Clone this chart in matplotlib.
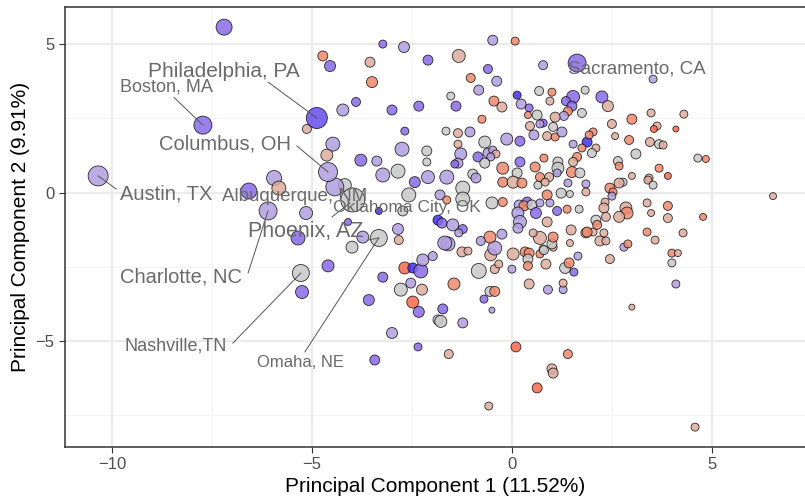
import matplotlib
matplotlib.use("Agg")
import matplotlib.pyplot as plt
from matplotlib.colors import LinearSegmentedColormap
import numpy as np

plt.rcParams['font.family'] = ['Liberation Sans', 'DejaVu Sans']

# PCA scores per metro area: PC1, PC2, marker size (px radius), fill score (-1 blue .. 1 red)
B, P, L, G, S, O, R = -1.0, -0.7, -0.4, 0.0, 0.35, 0.7, 0.95

pc1 = [-7.20, -4.73, -4.55, -3.55, -3.50, -3.23, -2.70, -2.10, -4.23, -3.90,
       -3.00, -2.33, -5.13, -4.48, -4.63, -2.68, -2.75, -2.13, -2.13, -3.78,
       -3.38, -3.23, -2.85, -2.43, -2.10, -2.58, -4.18, -4.43, -5.95, -5.83,
       -6.58, -5.15, -4.10, -3.33, -2.73, -2.85, -2.83, -3.73, -4.00, -5.35,
       -1.85, -1.75, -4.60, -5.25, -3.23, -3.58, -3.00, -2.35, -3.43, -2.68,
       -2.48, -2.28, -2.23, -1.98, -2.53, -2.78, -2.25, -2.48, -2.33, -1.85,
       -1.45, -1.78, -1.23, -1.73, -0.70, -0.50, -0.55, -0.43, -0.83, -0.43,
       -0.33, 0.00, -0.53, -0.43, -0.55, -0.78, -1.25, -1.10, -1.60, 0.03,
       0.33, 0.43, 0.40, 0.40, 0.70, 0.85, 0.78, 1.03, 1.00, 1.03,
       0.70, 0.53, 1.45, 1.33, 1.43, 1.55, 1.65, 0.43, 0.90, 1.28,
       1.28, 1.85, 2.03, 2.20, 2.35, 2.30, 2.45, 2.80, 2.90, 3.00,
       3.38, 3.58, 4.00, 4.15, 4.00, 4.10, 4.28, 0.10, -1.58, 1.40,
       1.00, 1.03, 0.63, -0.58, 4.58, 6.53,
       -1.80, -1.63, -1.68,
       -0.48, 0.08, -1.33, 0.78, -0.60, -1.03, -0.38, -0.83, -1.53, -1.40,
       -0.45, -0.25, 0.13, 0.68, 1.00, 0.95, 1.53, 1.35, 1.50, 1.83,
       1.75, 1.40, 1.30, 0.23, 0.43, 0.40, 0.63, 1.08, 1.03, 0.78,
       0.70, 0.45, -0.75, -1.65, -1.35, -1.05, -0.68, -0.13, 0.20, 0.55,
       0.88, 1.08, 1.25, 1.53, 1.88, 1.75, -1.35, -1.28, -0.85, -0.60,
       -0.48, -0.40, -0.53, -1.35, -1.43, -0.68, -0.23, 0.20, 0.13, 0.58,
       0.80, 1.15, 1.15, 1.63, 1.53, 1.50, 1.70, 0.70, 0.93, 1.13,
       -1.63, -0.98, -0.90,
       3.53, 2.25, 2.40, 3.48, 4.30, 2.50, 3.00, 3.63, 3.55, 4.10,
       2.58, 2.03, 1.93, 2.10, 2.00, 2.93, 3.45, 3.68, 3.78, 3.10,
       2.65, 2.68, 3.00, 3.68, 3.90, 3.43, 4.65, 4.85,
       -0.23, 0.03, 0.25, 0.65, 0.83, 1.40, 1.85, -1.23, -1.23, -0.50,
       -0.23, -1.48, -1.23, -1.33, 0.18, 0.38, 0.30, 0.50, 0.60, 0.15,
       0.20, 0.15, 0.70, 0.88, 0.95, 1.23, 1.45, 1.13, 1.38, 1.68,
       0.88, 0.80, 1.48, -0.25,
       1.85, 2.45, 2.53, 2.50, 2.78, 2.68, 3.40, 3.53, 2.33, 2.30,
       2.35, 2.10, 2.13, 1.88, 2.85, 2.88, 2.68, 3.38, 3.48, 3.90,
       3.90, 4.78,
       -3.98, -3.33, -4.88, -7.73, -4.60, -10.35, -6.10, -5.28, 1.63]

pc2 = [5.57, 4.60, 4.26, 4.39, 3.72, 5.00, 4.90, 4.46, 2.78, 3.05,
       2.78, 2.91, 2.14, 1.63, 1.26, 2.07, 1.46, 1.40, 1.03, 1.09,
       1.06, 0.59, 0.72, 0.35, 0.52, -0.08, 0.25, 0.19, 0.49, 0.15,
       0.05, -0.69, -0.99, -0.62, -0.62, -1.23, -1.60, -1.50, -1.84, -1.53,
       -0.93, -1.03, -2.47, -3.35, -2.85, -3.62, -4.73, -5.20, -5.64, -2.54,
       -2.54, -2.64, -2.27, -2.14, -3.05, -3.27, -3.27, -3.69, -4.02, -4.29,
       -3.08, -4.34, -4.39, -3.92, -3.59, -3.96, -3.33, -3.33, -2.64, -2.58,
       -2.41, -2.58, -2.10, -1.87, -1.50, -1.63, -2.00, -1.97, -1.73, -2.07,
       -2.00, -2.04, -2.24, -2.47, -2.07, -2.41, -1.90, -1.84, -1.73, -1.50,
       -1.53, -1.36, -1.70, -2.54, -2.37, -2.68, -2.14, -3.08, -3.27, -3.27,
       -3.05, -1.36, -1.33, -1.63, -1.63, -1.36, -2.24, -1.84, -1.73, -3.86,
       -1.33, -1.60, -2.04, -2.04, -2.37, -3.08, -1.36, -5.20, -5.44, -5.44,
       -5.94, -6.08, -6.58, -7.19, -7.90, -0.12,
       -0.08, -0.25, -1.70,
       5.13, 5.10, 4.60, 4.29, 4.16, 3.86, 3.75, 3.45, 3.25, 2.91,
       3.08, 2.88, 3.28, 3.42, 3.38, 3.08, 3.22, 3.08, 2.91, 3.45,
       2.68, 2.74, 2.58, 2.98, 2.85, 2.61, 2.61, 2.54, 2.21, 2.34,
       2.31, 2.24, 2.47, 2.07, 2.00, 2.04, 1.70, 1.80, 1.73, 1.94,
       1.90, 1.87, 2.04, 1.63, 1.70, 1.50, 1.63, 1.30, 1.20, 1.33,
       1.43, 1.30, 1.20, 0.99, 0.96, 0.99, 0.82, 1.03, 0.66, 0.86,
       1.16, 1.03, 0.82, 1.20, 1.03, 0.69, 0.66, 0.52, 0.52, 0.66,
       0.52, 0.62, 0.49,
       3.82, 3.22, 2.91, 2.68, 2.64, 2.31, 2.47, 2.24, 2.14, 2.14,
       1.90, 2.04, 1.94, 1.50, 1.33, 1.77, 1.70, 1.63, 1.60, 1.30,
       1.06, 0.89, 0.56, 0.82, 0.56, 0.49, 1.16, 1.13,
       0.35, 0.35, 0.32, 0.25, 0.35, 0.32, 0.29, 0.15, -0.22, -0.35,
       -0.32, -1.09, -1.23, -1.36, -0.42, -0.32, -0.45, -0.42, -0.69, -0.69,
       -0.99, -1.20, -0.35, -0.08, -0.35, -0.02, -0.05, -0.62, -0.56, -0.56,
       -0.99, -1.94, -1.26, -1.40,
       0.02, 0.15, 0.02, -0.12, 0.35, 0.32, 0.42, 0.25, -0.32, -0.52,
       -0.82, -0.93, -1.09, -1.33, -0.52, -0.69, -0.82, -0.35, -0.69, -0.45,
       -0.86, -0.82,
       -0.25, -1.53, 2.51, 2.27, 0.69, 0.56, -0.62, -2.71, 4.36]

size_px = [8, 5, 5.5, 5, 5.5, 4, 5.5, 5, 6, 4.5,
           5, 5, 4.5, 7, 6, 4, 7, 5, 4, 6,
           5, 7, 7, 5.5, 6.5, 7, 6.5, 9, 7.5, 7,
           8, 6.5, 3.5, 3.5, 5, 5.5, 4.5, 6, 6, 7,
           5, 5, 6, 6.5, 5, 5.5, 5.5, 4, 5, 6,
           5, 7, 6, 4.5, 5, 6.5, 5.5, 6, 5.5, 5,
           6, 6, 5, 5, 4, 3, 5, 5, 7.5, 4.5,
           4, 4, 6, 7, 6, 4.5, 5, 4, 7, 6,
           5, 5, 5, 4.5, 4, 5, 4, 4, 5, 5,
           6.5, 4, 3.5, 5.5, 5, 4, 4, 5, 4.5, 4,
           4, 5, 4, 5, 4, 4, 4.5, 4, 4, 3,
           4, 4, 4, 3.5, 4, 4, 4, 5, 4.5, 4.5,
           5, 5, 5, 4, 4, 3.5,
           5, 4, 7,
           5, 4, 6.5, 4.5, 4.5, 4.5, 5, 5, 4, 5,
           5, 5, 4, 4.5, 4, 4, 6.5, 4.5, 5, 4,
           4.5, 4.5, 4.5, 5, 4, 3.5, 5, 5, 4.5, 4,
           4, 4.5, 4, 4, 4.5, 5, 6, 6, 5, 5,
           4.5, 4, 5, 4, 5, 4, 4, 6, 5, 5,
           4, 4, 4, 5, 4, 5, 6, 5, 5, 5,
           4, 5, 6, 4.5, 4.5, 5.5, 5, 4.5, 4.5, 4,
           7, 5, 5,
           4, 6, 5.5, 4, 4, 4.5, 5, 4, 3.5, 3,
           3.5, 4, 4, 4, 4.5, 4.5, 4.5, 4.5, 4, 5,
           4.5, 4, 3.5, 4, 3.5, 4, 4, 3.5,
           5, 6, 5, 4, 4, 4, 4, 7, 7, 6,
           4.5, 6, 4.5, 4, 5, 5, 5, 5, 5.5, 6,
           6.5, 5, 4, 5, 4, 5, 3.5, 4.5, 4, 4,
           5, 4.5, 5, 5,
           4, 5, 4, 4, 4, 5, 4, 4, 4, 5,
           4.5, 5, 4.5, 5, 6, 6, 5.5, 4, 3.5, 4.5,
           4.5, 3.5,
           12, 8.5, 10.5, 9, 9.5, 10, 9, 8.5, 9]

score = [P, O, P, S, O, P, L, P, L, P,
         P, P, S, L, S, P, L, G, G, P,
         L, L, G, P, L, G, G, L, L, S,
         P, L, P, B, G, L, S, L, G, P,
         B, P, P, P, P, P, L, P, P, R,
         B, P, L, L, L, G, S, R, P, G,
         O, G, L, P, P, L, G, O, G, S,
         S, L, S, L, O, L, S, S, L, S,
         O, O, G, O, O, S, G, S, G, O,
         S, S, S, G, O, P, L, S, L, L,
         S, S, S, S, S, S, S, L, O, S,
         O, S, O, S, G, L, S, R, S, O,
         S, S, R, S, S, S,
         L, O, L,
         L, O, S, L, P, O, L, L, G, P,
         O, S, B, G, O, S, P, P, P, G,
         G, O, L, L, P, O, G, S, G, P,
         L, S, O, G, S, L, G, L, P, L,
         S, O, L, L, B, O, S, L, P, L,
         L, S, L, L, P, G, O, P, G, O,
         O, G, G, O, S, O, G, O, S, L,
         L, G, L,
         L, P, S, S, S, S, O, S, R, R,
         S, O, O, S, G, O, S, G, S, G,
         G, O, S, O, R, S, G, O,
         O, S, O, G, S, L, L, G, G, G,
         O, L, P, L, L, P, O, G, P, L,
         L, L, L, O, L, G, G, P, O, G,
         S, G, S, L,
         S, O, O, L, G, S, S, G, S, S,
         S, G, O, O, S, O, S, S, S, O,
         S, O,
         G, G, -0.85, P, L, L, L, G, P]

# Labelled metros: text, label centre, leader line ends, font size
labels = ["Philadelphia, PA", "Boston, MA", "Columbus, OH", "Austin, TX",
          "Albuquerque, NM", "Oklahoma City, OK", "Phoenix, AZ", "Charlotte, NC",
          "Nashville,TN", "Omaha, NE", "Sacramento, CA"]
label_x = [-7.20, -8.63, -7.18, -8.65, -5.43, -2.63, -5.15, -8.28, -8.40, -5.28, 3.13]
label_y = [4.09, 3.55, 1.63, -0.05, -0.15, -0.49, -1.30, -2.85, -5.17, -5.71, 4.16]
label_size = [15, 13, 14.5, 14.5, 13.5, 12.5, 15.5, 14.5, 13, 12, 13.5]
seg_x0 = [-6.10, -8.45, -5.38, -9.90, None, -4.50, -3.60, -6.60, -6.98, -5.18, None]
seg_y0 = [3.72, 3.20, 1.57, 0.12, None, -0.82, -1.60, -2.71, -5.07, -5.37, None]
seg_x1 = [-4.88, -7.73, -4.60, -10.35, None, -4.05, -3.33, -6.10, -5.28, -3.33, None]
seg_y1 = [2.51, 2.27, 0.69, 0.56, None, -0.35, -1.53, -0.62, -2.71, -1.53, None]

# blue -> grey -> red fill scale
cmap = LinearSegmentedColormap.from_list(
    "pc_fill", ["#4030f4", "#9072e4", "#b8aadc", "#c8c8c8", "#dcaea0", "#ec8c72", "#f66446"])

fig = plt.figure(figsize=(8.05, 4.97), dpi=100)
ax = fig.add_axes([0.0807, 0.1006, 0.9193, 0.8854])

# Grid (major + minor like theme_bw)
for v in [-10, -5, 0, 5]:
    ax.axvline(v, color='#ebebeb', lw=1.6, zorder=0)
for v in [-7.5, -2.5, 2.5]:
    ax.axvline(v, color='#f2f2f2', lw=0.8, zorder=0)
for v in [-5, 0, 5]:
    ax.axhline(v, color='#ebebeb', lw=1.6, zorder=0)
for v in [-7.5, -2.5, 2.5]:
    ax.axhline(v, color='#f2f2f2', lw=0.8, zorder=0)

sizes = 2.07 * np.array(size_px) ** 2
colors = cmap((np.array(score) + 1) / 2)
colors[:, 3] = 0.85
ax.scatter(pc1, pc2, s=sizes, c=colors, edgecolors=(0, 0, 0, 0.8), linewidths=0.6, zorder=2)

# Leader lines and labels
for i, txt in enumerate(labels):
    if seg_x0[i] is not None:
        ax.plot([seg_x0[i], seg_x1[i]], [seg_y0[i], seg_y1[i]], color='#555555', lw=0.7, zorder=3)
    ax.text(label_x[i], label_y[i], txt, fontsize=label_size[i], color='#6a6a6a',
            ha='center', va='center', zorder=4)

ax.set_xlim(-11.18, 7.33)
ax.set_ylim(-8.57, 6.25)
ax.set_xticks([-10, -5, 0, 5])
ax.set_yticks([-5, 0, 5])
ax.tick_params(axis='both', colors='#333333', labelcolor='#4d4d4d', labelsize=12, length=4, width=0.8)

ax.spines['right'].set_visible(False)
for side in ['top', 'left', 'bottom']:
    ax.spines[side].set_color('#333333')
    ax.spines[side].set_linewidth(1.1)

ax.set_xlabel('Principal Component 1 (11.52%)', fontsize=15, labelpad=3)
ax.set_ylabel('Principal Component 2 (9.91%)', fontsize=15, labelpad=4)

fig.savefig('out.png', dpi=100)
